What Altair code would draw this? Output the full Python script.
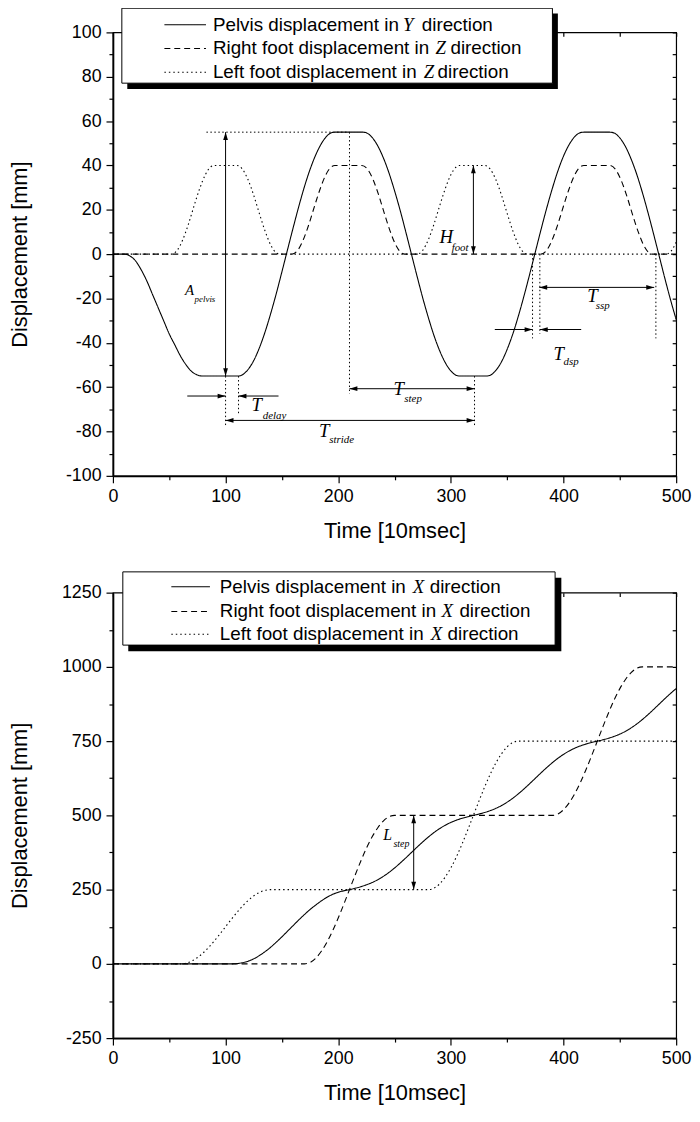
import altair as alt
import pandas as pd

SERIES = ["Pelvis", "Right foot", "Left foot"]
DASHES = [[1, 0], [6, 4], [1.5, 3]]

# ---------------- top panel: Y / Z displacements ----------------
pelvis_y_t = [0, 10, 15, 20, 25, 30, 35, 40, 45, 50, 55, 60, 65, 70, 75, 80, 90, 100, 111,
              115, 120, 125, 130, 135, 140, 145, 150, 155, 160, 165, 170, 175, 180, 185, 190, 195, 197, 210, 222,
              225, 230, 235, 240, 245, 250, 255, 260, 265, 270, 275, 280, 285, 290, 295, 300, 305, 308, 320, 331,
              335, 340, 345, 350, 355, 360, 365, 370, 375, 380, 385, 390, 395, 400, 405, 410, 415, 418, 430, 441,
              445, 450, 455, 460, 465, 470, 475, 480, 485, 490, 495, 500]
pelvis_y_v = [0, 0, -0.8, -3, -7, -12, -18, -24, -30, -36, -41, -46, -50, -53, -54.5, -55, -55, -55, -55,
              -54.4, -52.0, -48.0, -42.3, -35.2, -26.9, -17.8, -8.0, 2.0, 11.9, 21.5, 30.4, 38.2, 44.7, 49.8, 53.3, 54.9, 55, 55, 55,
              54.7, 52.7, 48.9, 43.5, 36.7, 28.6, 19.7, 10.0, 0, -10.0, -19.7, -28.6, -36.7, -43.5, -48.9, -52.7, -54.7, -55, -55, -55,
              -54.6, -52.4, -48.5, -42.9, -36.0, -27.8, -18.7, -9.0, 1.0, 11.0, 20.6, 29.5, 37.5, 44.2, 49.4, 53.0, 54.8, 55, 55, 55,
              54.6, 52.4, 48.5, 42.9, 36.0, 27.8, 18.7, 9.0, -1.0, -11.0, -20.6, -29.5]

right_z_t = [0, 159, 164, 169, 174, 179, 184, 189, 194, 197, 221, 226, 231, 236, 241, 246, 251, 256, 259,
             380, 385, 390, 395, 400, 405, 410, 415, 418, 441, 446, 451, 456, 461, 466, 471, 476, 479, 500]
right_z_v = [0, 0, 1.7, 6.5, 13.5, 21.7, 29.5, 35.8, 39.4, 40, 40, 38.3, 33.5, 26.5, 18.3, 10.5, 4.2, 0.6, 0,
             0, 1.7, 6.5, 13.5, 21.7, 29.5, 35.8, 39.4, 40, 40, 38.3, 33.5, 26.5, 18.3, 10.5, 4.2, 0.6, 0, 0]

left_z_t = [0, 52, 57, 62, 67, 72, 77, 82, 87, 90, 110, 115, 120, 125, 130, 135, 140, 145, 148,
            270, 275, 280, 285, 290, 295, 300, 305, 308, 330, 335, 340, 345, 350, 355, 360, 365, 368,
            491, 496, 500]
left_z_v = [0, 0, 1.7, 6.5, 13.5, 21.7, 29.5, 35.8, 39.4, 40, 40, 38.3, 33.5, 26.5, 18.3, 10.5, 4.2, 0.6, 0,
            0, 1.7, 6.5, 13.5, 21.7, 29.5, 35.8, 39.4, 40, 40, 38.3, 33.5, 26.5, 18.3, 10.5, 4.2, 0.6, 0,
            0, 1.7, 5.4]

# top annotations (data coordinates)
top_guide_x1 = [83, 210, 100, 111.5, 321, 372.5, 379, 482]
top_guide_x2 = [210, 210, 100, 111.5, 321, 372.5, 379, 482]
top_guide_y1 = [55, 55, -55, -55, -55, 0, 0, 0]
top_guide_y2 = [55, -63, -78, -72, -78, -38, -36, -38]

top_arrow_x1 = [100, 100, 210, 66, 147, 320, 378.5, 339, 415.7]
top_arrow_x2 = [100, 321, 321, 100, 111.5, 320, 480.5, 372.5, 379]
top_arrow_y1 = [55, -75, -60.7, -64, -64, 40, -15, -34, -34]
top_arrow_y2 = [-55, -75, -60.7, -64, -64, 0, -15, -34, -34]

top_head_up = [(100, 55), (320, 40)]
top_head_down = [(100, -55), (320, 0)]
top_head_left = [(100, -75), (210, -60.7), (111.5, -64), (378.5, -15), (379, -34)]
top_head_right = [(321, -75), (321, -60.7), (100, -64), (480.5, -15), (372.5, -34)]

top_big_labels = ["T", "T", "T", "H", "T", "T"]
top_big_x = [123, 249, 183, 290, 421, 391]
top_big_y = [-68, -61, -80, 7.6, -19, -45]
top_sub_labels = ["delay", "step", "stride", "foot", "ssp", "dsp"]
top_sub_x = [133, 258.7, 192, 300.7, 428.6, 400]
top_sub_y = [-73, -65.5, -84, 2.7, -23.4, -48.5]
top_a_label = ["A"]
top_a_x = [64]
top_a_y = [-16]
top_a_sub = ["pelvis"]
top_a_sub_x = [72.5]
top_a_sub_y = [-20.4]

top_legend_parts = [["Pelvis displacement in", "Y", "direction"],
                    ["Right foot displacement in", "Z", "direction"],
                    ["Left foot displacement in", "Z", "direction"]]

# ---------------- bottom panel: X displacements ----------------
pelvis_x_t = [0, 105] + list(range(110, 505, 5))
pelvis_x_v = [0, 0,
              1, 4, 9, 17, 28, 41, 56, 73, 91, 110, 129, 148, 166, 183, 198, 212, 224, 234, 241, 246, 250,
              254.6, 259.8, 266.1, 273.7, 283.2, 294.6, 307.8, 322.9, 339.4, 356.9, 375, 393.1, 410.6, 427.1,
              442.2, 455.4, 466.8, 476.3, 484.0, 490.2, 495.4, 500,
              504.6, 509.8, 516.1, 523.7, 533.2, 544.6, 557.8, 572.9, 589.4, 606.9, 625, 643.1, 660.6, 677.1,
              692.2, 705.4, 716.8, 726.3, 734.0, 740.2, 745.4, 750,
              754.6, 759.8, 766.1, 773.7, 783.2, 794.6, 807.8, 822.9, 839.4, 856.9, 875, 893.1, 910.6, 927.1]

right_x_t = [0, 170] + list(range(175, 255, 5)) + [390] + list(range(395, 475, 5)) + [500]
right_x_v = [0, 0,
             4.8, 19.0, 42.3, 73.2, 111.0, 154.3, 201.2, 250, 298.8, 345.7, 389.0, 426.8, 457.7, 481.0, 495.2, 500,
             500,
             504.8, 519, 542.3, 573.2, 611, 654.3, 701.2, 750, 798.8, 845.7, 889, 926.8, 957.7, 981, 995.2, 1000,
             1000]

left_x_t = [0, 60] + list(range(65, 145, 5)) + [280] + list(range(285, 365, 5)) + [500]
left_x_v = [0, 0,
            2.4, 9.5, 21.2, 36.6, 55.5, 77.2, 100.6, 125, 149.4, 172.8, 194.5, 213.4, 228.8, 240.5, 247.6, 250,
            250,
            254.8, 269, 292.3, 323.2, 361, 404.3, 451.2, 500, 548.8, 595.7, 639, 676.8, 707.7, 731, 745.2, 750,
            750]

bot_arrow_x1 = [267]
bot_arrow_x2 = [267]
bot_arrow_y1 = [500]
bot_arrow_y2 = [250]
bot_head_up = [(267, 500)]
bot_head_down = [(267, 250)]
bot_big_labels = ["L"]
bot_big_x = [240]
bot_big_y = [434]
bot_sub_labels = ["step"]
bot_sub_x = [249]
bot_sub_y = [402]

bot_legend_parts = [["Pelvis displacement in", "X", "direction"],
                    ["Right foot displacement in", "X", "direction"],
                    ["Left foot displacement in", "X", "direction"]]

# ---------------- layout / style constants (pixels) ----------------
W = 569
H_TOP = 448
H_BOT = 450
SANS = "Liberation Sans"
SERIF = "Liberation Serif"

TOP_LEG = dict(box=(9, 444, -24.4, 51.3), shadow=(14.5, 449.5, -19, 57.3),
               line=(52, 94), rows=[-7.7, 16.3, 40.3], text_x=101,
               letter_x=[293, 326, 314], dir_x=[312, 341, 328])
BOT_LEG = dict(box=(10, 446.7, -21, 53), shadow=(15.5, 453, -15, 59.3),
               line=(59, 98), rows=[-6, 19, 42], text_x=108,
               letter_x=[303, 332, 321], dir_x=[320, 350, 338])
LEG_FONT = 19

ONE = pd.DataFrame({"k": [0]})
XS = alt.Scale(domain=[0, 500], nice=False, zero=False)

UP = "M0,0L-0.6,2L0.6,2Z"
DOWN = "M0,0L-0.6,-2L0.6,-2Z"
LEFT = "M0,0L2,-0.6L2,0.6Z"
RIGHT = "M0,0L-2,-0.6L-2,0.6Z"


def long_df(parts):
    rows = []
    for s, ts, vs in parts:
        for t, v in zip(ts, vs):
            rows.append({"series": s, "t": t, "v": v})
    return pd.DataFrame(rows)


def cond_tick(mod, big, small):
    return {"condition": {"test": f"datum.value % {mod} === 0", "value": big}, "value": small}


def panel(lines, ydom, ystep, ymod, H, guides, arrows, heads, big, sub, small_big, small_sub,
          big_size, sub_size, legend_parts, leg):
    YS = alt.Scale(domain=ydom, nice=False, zero=False)
    yvals = list(range(ydom[0], ydom[1] + 1, ystep))
    xvals = list(range(0, 501, 50))
    x_axis = alt.Axis(values=xvals, labelExpr="datum.value % 100 === 0 ? '' + datum.value : ''",
                      tickSize=cond_tick(100, 7, 4), labelPadding=5, labelFlush=False, labelOverlap=False,
                      title="Time [10msec]", titleX=W / 2, titleY=45, titleBaseline="top", titleAlign="center")
    y_axis = alt.Axis(values=yvals, labelExpr=f"datum.value % {ymod} === 0 ? '' + datum.value : ''",
                      tickSize=cond_tick(ymod, 7, 4), labelPadding=5, labelFlush=False, labelOverlap=False,
                      title="Displacement [mm]", titleX=-82, titleY=H / 2, titleAngle=-90,
                      titleBaseline="bottom", titleAlign="center")
    layers = []
    layers.append(alt.Chart(lines).mark_line(color="black", strokeWidth=1.1, interpolate="monotone").encode(
        x=alt.X("t:Q", scale=XS, axis=x_axis),
        y=alt.Y("v:Q", scale=YS, axis=y_axis),
        strokeDash=alt.StrokeDash("series:N", scale=alt.Scale(domain=SERIES, range=DASHES), legend=None),
        detail="series:N"))
    # invisible layer that only carries the inward top / right tick axes of the frame
    layers.append(alt.Chart(lines).mark_line(strokeOpacity=0, strokeWidth=0.1).encode(
        x=alt.X("t:Q", scale=XS, axis=alt.Axis(orient="top", values=xvals, labels=False, title=None,
                                               domain=False, tickSize=4, offset=-4, minExtent=0, maxExtent=0)),
        y=alt.Y("v:Q", scale=YS, axis=alt.Axis(orient="right", values=yvals, labels=False, title=None,
                                               domain=False, tickSize=4, offset=-4, minExtent=0, maxExtent=0)),
        detail="series:N"))
    if guides is not None:
        layers.append(alt.Chart(guides).mark_rule(color="black", strokeWidth=1, strokeDash=[1.5, 2.5]).encode(
            x=alt.X("x1:Q", scale=XS, axis=None), x2="x2:Q",
            y=alt.Y("y1:Q", scale=YS, axis=None), y2="y2:Q"))
    layers.append(alt.Chart(arrows).mark_rule(color="black", strokeWidth=1).encode(
        x=alt.X("x1:Q", scale=XS, axis=None), x2="x2:Q",
        y=alt.Y("y1:Q", scale=YS, axis=None), y2="y2:Q"))
    for shape, pts in heads:
        if not pts:
            continue
        df = pd.DataFrame(pts, columns=["x", "y"])
        layers.append(alt.Chart(df).mark_point(shape=shape, filled=True, size=64, color="black", opacity=1).encode(
            x=alt.X("x:Q", scale=XS, axis=None), y=alt.Y("y:Q", scale=YS, axis=None)))
    for df, size in [(big, big_size), (sub, sub_size), (small_big, big_size - 4), (small_sub, sub_size - 2)]:
        if df is None:
            continue
        layers.append(alt.Chart(df).mark_text(font=SERIF, fontStyle="italic", fontSize=size, align="left",
                                             baseline="middle", color="black").encode(
            x=alt.X("x:Q", scale=XS, axis=None), y=alt.Y("y:Q", scale=YS, axis=None), text="label:N"))
    # legend box with Origin-like shadow
    sx1, sx2, sy1, sy2 = leg["shadow"]
    layers.append(alt.Chart(ONE).mark_rect(color="black").encode(
        x=alt.value(sx1), x2=alt.value(sx2), y=alt.value(sy1), y2=alt.value(sy2)))
    bx1, bx2, by1, by2 = leg["box"]
    layers.append(alt.Chart(ONE).mark_rect(fill="white", stroke="black", strokeWidth=1).encode(
        x=alt.value(bx1), x2=alt.value(bx2), y=alt.value(by1), y2=alt.value(by2)))
    lx1, lx2 = leg["line"]
    for i, (parts, ry) in enumerate(zip(legend_parts, leg["rows"])):
        layers.append(alt.Chart(ONE).mark_rule(color="black", strokeWidth=1.1, strokeDash=DASHES[i]).encode(
            x=alt.value(lx1), x2=alt.value(lx2), y=alt.value(ry)))
        layers.append(alt.Chart(ONE).mark_text(font=SANS, fontSize=LEG_FONT, align="left", baseline="middle",
                                               color="black").encode(
            x=alt.value(leg["text_x"]), y=alt.value(ry), text=alt.value(parts[0])))
        layers.append(alt.Chart(ONE).mark_text(font=SERIF, fontStyle="italic", fontSize=LEG_FONT, align="left",
                                               baseline="middle", color="black").encode(
            x=alt.value(leg["letter_x"][i]), y=alt.value(ry), text=alt.value(parts[1])))
        layers.append(alt.Chart(ONE).mark_text(font=SANS, fontSize=LEG_FONT, align="left", baseline="middle",
                                               color="black").encode(
            x=alt.value(leg["dir_x"][i]), y=alt.value(ry), text=alt.value(parts[2])))
    return alt.layer(*layers).resolve_axis(x="independent", y="independent").properties(width=W, height=H)


top_lines = long_df([("Pelvis", pelvis_y_t, pelvis_y_v), ("Right foot", right_z_t, right_z_v),
                     ("Left foot", left_z_t, left_z_v)])
top_guides = pd.DataFrame({"x1": top_guide_x1, "x2": top_guide_x2, "y1": top_guide_y1, "y2": top_guide_y2})
top_arrows = pd.DataFrame({"x1": top_arrow_x1, "x2": top_arrow_x2, "y1": top_arrow_y1, "y2": top_arrow_y2})
top_big = pd.DataFrame({"label": top_big_labels, "x": top_big_x, "y": top_big_y})
top_sub = pd.DataFrame({"label": top_sub_labels, "x": top_sub_x, "y": top_sub_y})
top_a = pd.DataFrame({"label": top_a_label, "x": top_a_x, "y": top_a_y})
top_asub = pd.DataFrame({"label": top_a_sub, "x": top_a_sub_x, "y": top_a_sub_y})

top = panel(top_lines, [-100, 100], 10, 20, H_TOP, top_guides, top_arrows,
            [(UP, top_head_up), (DOWN, top_head_down), (LEFT, top_head_left), (RIGHT, top_head_right)],
            top_big, top_sub, top_a, top_asub, 19, 11, top_legend_parts, TOP_LEG)

bot_lines = long_df([("Pelvis", pelvis_x_t, pelvis_x_v), ("Right foot", right_x_t, right_x_v),
                     ("Left foot", left_x_t, left_x_v)])
bot_arrows = pd.DataFrame({"x1": bot_arrow_x1, "x2": bot_arrow_x2, "y1": bot_arrow_y1, "y2": bot_arrow_y2})
bot_big = pd.DataFrame({"label": bot_big_labels, "x": bot_big_x, "y": bot_big_y})
bot_sub = pd.DataFrame({"label": bot_sub_labels, "x": bot_sub_x, "y": bot_sub_y})

bottom = panel(bot_lines, [-250, 1250], 125, 250, H_BOT, None, bot_arrows,
               [(UP, bot_head_up), (DOWN, bot_head_down)],
               bot_big, bot_sub, None, None, 16, 10, bot_legend_parts, BOT_LEG)

chart = alt.vconcat(top, bottom, spacing=28).properties(
    padding={"left": 0, "top": -7, "right": 0, "bottom": 0},
    background="white",
).configure_view(stroke="black", strokeWidth=1.2).configure_axis(
    labelFont=SANS, labelFontSize=18, titleFont=SANS, titleFontSize=22, titleFontWeight="normal",
    labelColor="black", titleColor="black", tickColor="black", domainColor="black",
    domainWidth=1.8, tickWidth=1.2, grid=False)

chart.save("out.html", embed_options={"renderer": "svg", "actions": False})
